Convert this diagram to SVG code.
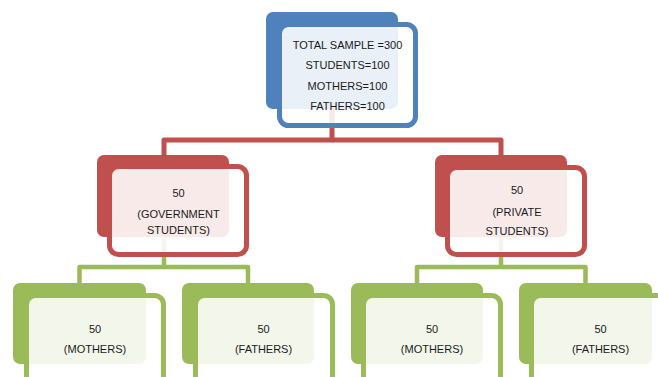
<svg xmlns="http://www.w3.org/2000/svg" width="658" height="377" viewBox="0 0 658 377">
<style>
.t{font-family:"Liberation Sans",Arial,sans-serif;font-size:11px;fill:#1a1a1a;text-anchor:middle}
.front{fill:#ffffff;fill-opacity:0.88;stroke-width:5}
.b .back{fill:#4F81BD}.b .front{stroke:#4F81BD}
.r .back{fill:#C0504D}.r .front{stroke:#C0504D}
.g .back{fill:#9BBB59}.g .front{stroke:#9BBB59}
.cr{fill:none;stroke:#C0504D;stroke-width:5;stroke-linejoin:round}
.cg{fill:none;stroke:#9BBB59;stroke-width:4.5;stroke-linejoin:round}
</style>
<rect width="658" height="377" fill="#ffffff"/>
<g id="connectors">
<path class="cr" d="M332,108 V140 H164 V156"/>
<path class="cr" d="M332,140 H501 V156"/>
<path class="cg" d="M164,236 V267 H79.5 V284"/>
<path class="cg" d="M164,267 H248 V284"/>
<path class="cg" d="M501,236 V267 H417 V284"/>
<path class="cg" d="M501,267 H585.5 V284"/>
</g>
<g id="total" class="b">
<rect class="back" x="266" y="12" width="132" height="97" rx="7"/>
<rect class="front" x="279.5" y="24.5" width="136" height="101" rx="9"/>
<text class="t" x="347.5" y="48.5">TOTAL SAMPLE =300</text>
<text class="t" x="347.5" y="68.5">STUDENTS=100</text>
<text class="t" x="347.5" y="89.5">MOTHERS=100</text>
<text class="t" x="347.5" y="110">FATHERS=100</text>
</g>
<g id="government" class="r">
<rect class="back" x="97" y="155" width="132" height="82" rx="7"/>
<rect class="front" x="109.5" y="166.5" width="137" height="88" rx="9"/>
<text class="t" x="178.5" y="197">50</text>
<text class="t" x="178.5" y="217.5">(GOVERNMENT</text>
<text class="t" x="178.5" y="233.5">STUDENTS)</text>
</g>
<g id="private" class="r">
<rect class="back" x="435" y="155" width="132" height="82" rx="7"/>
<rect class="front" x="447.5" y="167.5" width="137" height="87" rx="9"/>
<text class="t" x="517" y="193.5">50</text>
<text class="t" x="517" y="216">(PRIVATE</text>
<text class="t" x="517" y="235">STUDENTS)</text>
</g>
<g id="gov-mothers" class="g">
<rect class="back" x="13" y="283" width="133" height="81" rx="7"/>
<rect class="front" x="26.5" y="295.5" width="137" height="90" rx="9"/>
<text class="t" x="95" y="332.5">50</text>
<text class="t" x="95" y="353">(MOTHERS)</text>
</g>
<g id="gov-fathers" class="g">
<rect class="back" x="182" y="283" width="132" height="81" rx="7"/>
<rect class="front" x="195.5" y="295.5" width="137" height="90" rx="9"/>
<text class="t" x="263.5" y="332.5">50</text>
<text class="t" x="263.5" y="353">(FATHERS)</text>
</g>
<g id="priv-mothers" class="g">
<rect class="back" x="351" y="283" width="132" height="81" rx="7"/>
<rect class="front" x="363.5" y="295.5" width="137" height="90" rx="9"/>
<text class="t" x="432" y="332.5">50</text>
<text class="t" x="432" y="353">(MOTHERS)</text>
</g>
<g id="priv-fathers" class="g">
<rect class="back" x="519" y="283" width="133" height="81" rx="7"/>
<rect class="front" x="531.5" y="295.5" width="137" height="90" rx="9"/>
<text class="t" x="600.5" y="332.5">50</text>
<text class="t" x="600.5" y="353">(FATHERS)</text>
</g>
</svg>
